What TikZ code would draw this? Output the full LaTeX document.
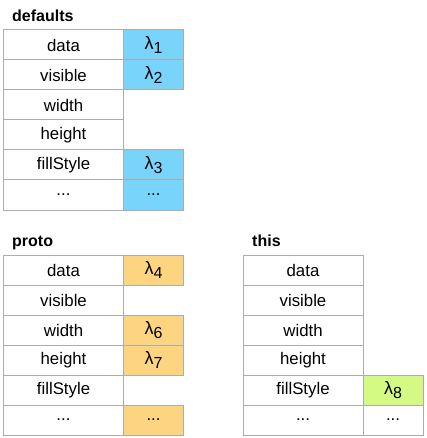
\documentclass[tikz,border=0pt]{standalone}
\usepackage{fontspec}
\setmainfont{Liberation Sans}
\definecolor{gridgray}{RGB}{172,172,172}
\definecolor{skyblue}{RGB}{120,212,250}
\definecolor{peach}{RGB}{253,212,128}
\definecolor{lime}{RGB}{212,250,132}
\newcommand{\etc}{...}
\newcommand{\lam}[1]{{\fontsize{18}{20}\selectfont λ}\raisebox{-0.45ex}{\fontsize{16}{18}\selectfont #1}}
\tikzset{
  cell/.style={draw=gridgray, line width=1pt, minimum height=30pt, inner sep=0pt,
    font=\fontsize{16.8}{19}\selectfont},
  namecell/.style={cell, minimum width=120pt},
  valcell/.style={cell, minimum width=60pt},
  heading/.style={anchor=base west, inner sep=0pt, font=\bfseries\fontsize{16}{18}\selectfont}
}
\begin{document}
\begin{tikzpicture}[x=1pt,y=-1pt]
\useasboundingbox (0,0) rectangle (426,438);

% defaults
\node[heading] (tdef) at (12,21.5) {defaults};
\foreach \lbl [count=\i] in {data,visible,width,height,fillStyle,\etc}
  \node[namecell] (def\i) at (63.5,{15+30*\i}) {\lbl};
\node[valcell, fill=skyblue] (defv1) at (153.5,45) {\lam{1}};
\node[valcell, fill=skyblue] (defv2) at (153.5,75) {\lam{2}};
\node[valcell, fill=skyblue] (defv5) at (153.5,165) {\lam{3}};
\node[valcell, fill=skyblue] (defv6) at (153.5,195) {\etc};

% proto
\node[heading] (tproto) at (12,246) {proto};
\foreach \lbl [count=\i] in {data,visible,width,height,fillStyle,\etc}
  \node[namecell] (pro\i) at (63.5,{240+30*\i}) {\lbl};
\node[valcell, fill=peach] (prov1) at (153.5,270) {\lam{4}};
\node[valcell, fill=peach] (prov3) at (153.5,330) {\lam{6}};
\node[valcell, fill=peach] (prov4) at (153.5,360) {\lam{7}};
\node[valcell, fill=peach] (prov6) at (153.5,420) {\etc};

% this
\node[heading] (tthis) at (252,246) {this};
\foreach \lbl [count=\i] in {data,visible,width,height,fillStyle,\etc}
  \node[namecell] (this\i) at (303,{240+30*\i}) {\lbl};
\node[valcell, fill=lime] (thisv5) at (393,390) {\lam{8}};
\node[valcell] (thisv6) at (393,420) {\etc};
\end{tikzpicture}
\end{document}
